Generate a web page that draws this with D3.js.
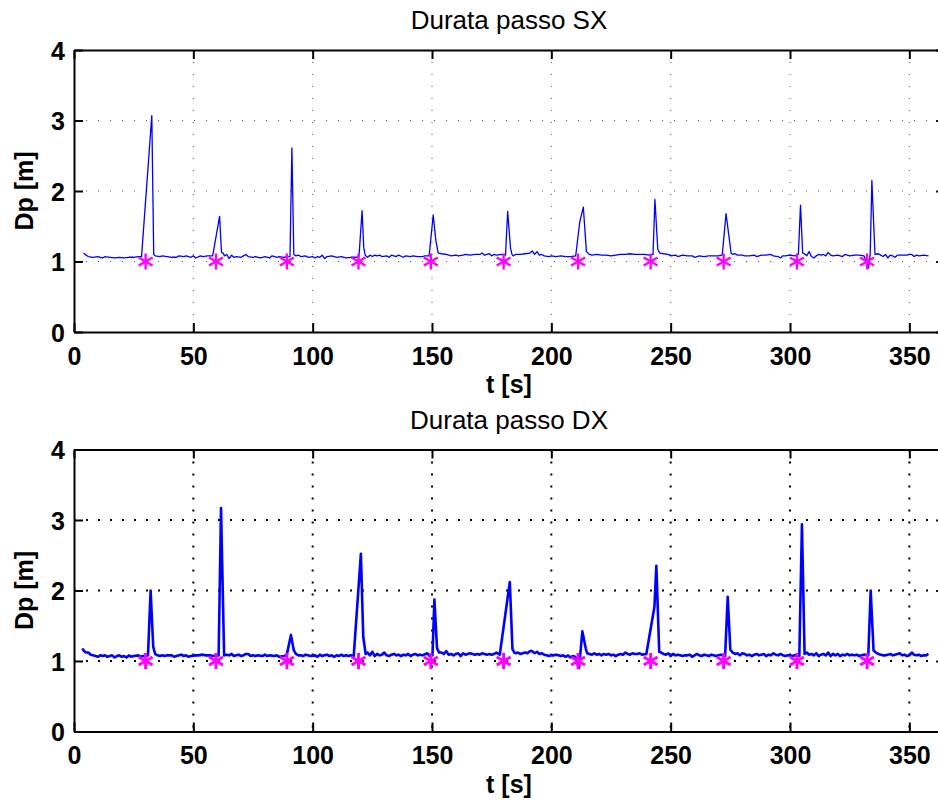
<!DOCTYPE html>
<html>
<head>
<meta charset="utf-8">
<script src="https://cdn.jsdelivr.net/npm/d3@7"></script>
<style>
  html, body { margin: 0; padding: 0; background: #fff; }
  svg { display: block; }
  text { font-family: "Liberation Sans", Arial, Helvetica, sans-serif; fill: #000; }
</style>
</head>
<body>
<svg id="chart" width="938" height="800"></svg>
<script>
// ---------------- DATA ----------------
const titles = ["Durata passo SX", "Durata passo DX"];
const xLabel = "t [s]";
const yLabel = "Dp [m]";
const xTicks = [0, 50, 100, 150, 200, 250, 300, 350];
const yTicks = [0, 1, 2, 3, 4];
const xDomain = [0, 365];
const yDomain = [0, 4];

const tSX = [4,5,6,8,10,11,12,13,15,17,19,21,23,25,27,28.3,32.6,33.4,34,36,37,39,41,43,44,46,47,49,50,51,53,54,56,57,58.1,61,61.8,62.5,63,64,65,66,67,68,70,71,72,73,75,76,78,79,80,82,83,85,86,88,90.5,91.3,92.1,93,94,95,97,98,100,101,102,103,104,105,106,108,110,112,114,116,118,119.4,120.7,121.4,122,123,124,125,126,127,128,129,131,132,133,135,136,138,139,141,142,144,146,147,148.8,150.5,151.6,152.6,154,156,157,158,160,161,163,164,166,168,170,171,172,174,175,176,177,179,180.8,181.7,182.9,183.5,184,185,187,189,191,192,193,194,195,196,197,199,200,202,204,206,208,210.2,211.9,213.4,214.7,216,217,219,221,223,225,227,229,231,233,235,237,239,241,242.6,243.4,244.6,245.5,247,249,250,252,253,255,257,259,260,262,264,266,268,270,271.6,273.2,275.3,276,277,278,280,281,283,285,286,288,290,292,293,295,296,297,298,300,302,303.5,304.4,305.3,306,307,308,309,310,311,312,313,314,315,316,317,318,320,322,323,325,327,329,331,332.9,333.6,334.3,335.6,337,338,339,340,341,342,343,344,345,347,349,350,351,352,353,354,356,358];
const dpSX = [1.12,1.09,1.07,1.06,1.07,1.06,1.05,1.07,1.06,1.05,1.06,1.05,1.06,1.06,1.07,1.07,3.07,1.10,1.08,1.07,1.08,1.07,1.06,1.06,1.08,1.07,1.08,1.06,1.08,1.05,1.08,1.07,1.08,1.08,1.08,1.64,1.13,1.12,1.08,1.10,1.04,1.09,1.06,1.07,1.06,1.08,1.10,1.07,1.06,1.07,1.05,1.06,1.07,1.05,1.08,1.06,1.07,1.06,1.07,2.61,1.10,1.08,1.09,1.07,1.08,1.06,1.07,1.05,1.07,1.06,1.09,1.04,1.07,1.08,1.06,1.07,1.05,1.06,1.06,1.07,1.72,1.20,1.09,1.06,1.09,1.07,1.09,1.08,1.09,1.07,1.08,1.06,1.09,1.07,1.09,1.06,1.08,1.07,1.08,1.07,1.07,1.08,1.08,1.66,1.30,1.12,1.11,1.10,1.09,1.08,1.09,1.08,1.09,1.10,1.09,1.10,1.10,1.12,1.09,1.11,1.08,1.10,1.09,1.10,1.09,1.71,1.19,1.10,1.08,1.10,1.10,1.11,1.12,1.15,1.10,1.14,1.09,1.10,1.08,1.07,1.08,1.07,1.08,1.07,1.07,1.08,1.56,1.77,1.14,1.10,1.09,1.10,1.09,1.09,1.08,1.09,1.10,1.10,1.11,1.10,1.10,1.10,1.09,1.10,1.88,1.17,1.12,1.11,1.10,1.08,1.09,1.07,1.09,1.08,1.08,1.06,1.08,1.07,1.08,1.08,1.08,1.09,1.68,1.12,1.10,1.11,1.09,1.09,1.08,1.08,1.09,1.07,1.09,1.09,1.10,1.08,1.07,1.05,1.08,1.08,1.09,1.08,1.10,1.80,1.12,1.11,1.08,1.14,1.07,1.05,1.08,1.10,1.09,1.10,1.08,1.13,1.09,1.08,1.09,1.07,1.10,1.08,1.09,1.09,1.08,0.91,1.10,2.15,1.10,1.11,1.09,1.07,1.10,1.05,1.09,1.08,1.06,1.09,1.09,1.09,1.10,1.10,1.07,1.09,1.08,1.09,1.08];

const tDX = [3.5,4,5,6,7,8,9,10,11,12,13,14,15,16,17,18,19,20,21,22,23,24,25,27,28,29,31,32.1,33.2,34,35,36,37,38,39,41,42,43,44,45,46,47,48,49,51,52,54,55,57,58,60.6,61.6,62.9,64,65,66,67,68,69,70,71,72,73,74,75,76,77,79,80,81,82,84,85,86,88,89.1,90.9,92.1,93,94,95,96,97,98,99,101,102,103,104,105,106,107,108,109,110,111,112,113,114,115,116,117.2,120.2,121.2,122.2,123,124,125,126,127,128,129,130,131,132,133,134,135,136,137,138,139,140,141,142,143,144,145,146,148,149,150.2,151,152.1,153,154,155,156,157,158,159,160,161,162,163,164,165,166,167,168,169,170,171,172,173,174,175,176,177,178.4,182.6,183.7,184.5,185,186,187,188,189,190,191,192,193,194,195,196,197,198,199,200,201,202,203,204,205,206,207,208,209,210,211.6,213,214.4,215,216,217,218,219,220,221,222,223,224,225,226,227,228,229,230,231,232,233,234,235,236,237,238,239.8,243.2,244,245.2,246,247,248,249,250,251,252,253,254,255,256,257,258,259,260,261,262,263,264,265,266,267,268,269,270,271,272.8,273.9,275,276,277,278,279,280,281,282,283,284,285,286,287,288,289,290,291,292,293,294,295,296,297,298,299,300,301,302,303.9,305,306.1,307,308,309,310,311,312,313,314,315,316,317,318,319,320,321,322,323,324,325,326,327,328,329,330,331,332.8,333.8,335,336,337,338,339,340,341,342,343,344,345,346,347,348,349,350,351,352,353,354,355,356,357,358];
const dpDX = [1.18,1.15,1.12,1.12,1.09,1.08,1.07,1.06,1.08,1.07,1.08,1.06,1.07,1.08,1.05,1.07,1.08,1.06,1.07,1.05,1.08,1.06,1.07,1.08,1.06,1.07,1.08,2.00,1.20,1.10,1.08,1.07,1.08,1.07,1.08,1.08,1.06,1.07,1.08,1.09,1.07,1.08,1.06,1.07,1.08,1.08,1.09,1.08,1.08,1.07,1.08,3.17,1.08,1.09,1.08,1.10,1.07,1.08,1.09,1.07,1.08,1.10,1.10,1.07,1.08,1.07,1.08,1.07,1.09,1.07,1.08,1.07,1.08,1.06,1.07,1.08,1.37,1.15,1.10,1.08,1.08,1.07,1.09,1.08,1.07,1.08,1.06,1.09,1.07,1.08,1.09,1.07,1.08,1.06,1.08,1.07,1.09,1.07,1.08,1.07,1.08,1.07,2.52,1.34,1.10,1.12,1.08,1.13,1.07,1.10,1.08,1.09,1.12,1.08,1.07,1.09,1.10,1.08,1.09,1.07,1.09,1.08,1.10,1.07,1.09,1.10,1.08,1.09,1.08,1.11,1.07,1.08,1.87,1.18,1.12,1.12,1.10,1.14,1.09,1.10,1.08,1.10,1.11,1.07,1.11,1.09,1.10,1.11,1.10,1.09,1.10,1.09,1.11,1.10,1.09,1.10,1.09,1.10,1.12,1.09,2.12,1.17,1.12,1.11,1.12,1.10,1.11,1.12,1.11,1.14,1.14,1.11,1.13,1.10,1.11,1.09,1.08,1.07,1.08,1.08,1.09,1.08,1.07,1.08,1.06,1.08,1.05,1.07,1.06,0.90,1.42,1.18,1.11,1.10,1.09,1.11,1.09,1.10,1.08,1.10,1.09,1.10,1.08,1.09,1.07,1.09,1.10,1.09,1.12,1.10,1.09,1.11,1.10,1.10,1.11,1.09,1.10,1.77,2.35,1.13,1.12,1.10,1.09,1.11,1.07,1.10,1.08,1.09,1.08,1.07,1.08,1.08,1.09,1.06,1.08,1.10,1.08,1.07,1.09,1.08,1.07,1.09,1.08,1.07,1.08,1.09,1.07,1.91,1.16,1.12,1.10,1.11,1.08,1.11,1.10,1.08,1.09,1.07,1.09,1.10,1.08,1.09,1.10,1.07,1.09,1.08,1.11,1.09,1.08,1.10,1.08,1.07,1.08,1.08,1.07,1.08,1.07,2.94,1.10,1.12,1.09,1.10,1.08,1.11,1.07,1.09,1.10,1.08,1.12,1.07,1.10,1.08,1.10,1.07,1.09,1.08,1.10,1.08,1.09,1.08,1.09,1.07,1.08,1.09,1.08,2.00,1.15,1.12,1.10,1.09,1.08,1.08,1.09,1.10,1.08,1.09,1.10,1.11,1.08,1.09,1.07,1.08,1.12,1.09,1.08,1.09,1.07,1.08,1.08,1.10];

const markT = [30, 59.5, 89.2, 119.2, 149.5, 180, 211.2, 241.6, 272.2, 302.9, 332.3];
const markV = [1, 1, 1, 1, 1, 1, 1, 1, 1, 1, 1];

// ---------------- DRAW ----------------
const svg = d3.select("#chart");

const panels = [
  { title: titles[0], t: tSX, v: dpSX, top: 50, lineW: 1.3, gridW: 1, gridDash: "1,11", gridColor: "#555", markW: 2.4 },
  { title: titles[1], t: tDX, v: dpDX, top: 449.5, lineW: 2.6, gridW: 2, gridDash: "2,10", gridColor: "#000", markW: 3 }
];

const left = 74, pxPerUnit = 2.3867, plotH = 282;
const right = left + pxPerUnit * (xDomain[1] - xDomain[0]);

panels.forEach(p => {
  const g = svg.append("g");
  const x = d3.scaleLinear().domain(xDomain).range([left, right]);
  const y = d3.scaleLinear().domain(yDomain).range([p.top + plotH, p.top]);

  // grid
  const grid = g.append("g");
  grid.selectAll("line.vg").data(xTicks.filter(d => d > 0)).enter().append("line")
    .attr("x1", d => x(d)).attr("x2", d => x(d))
    .attr("y1", y(yDomain[1])).attr("y2", y(yDomain[0]))
    .attr("stroke", p.gridColor).attr("stroke-width", p.gridW)
    .attr("stroke-dasharray", p.gridDash);
  grid.selectAll("line.hg").data(yTicks.filter(d => d > 0 && d < 4)).enter().append("line")
    .attr("x1", x(xDomain[0])).attr("x2", x(xDomain[1]))
    .attr("y1", d => y(d)).attr("y2", d => y(d))
    .attr("stroke", p.gridColor).attr("stroke-width", p.gridW)
    .attr("stroke-dasharray", p.gridDash);

  // data line
  const pts = p.t.map((t, i) => [t, p.v[i]]);
  g.append("path").datum(pts)
    .attr("fill", "none").attr("stroke", "#0000ff")
    .attr("stroke-width", p.lineW).attr("stroke-linejoin", "round")
    .attr("d", d3.line().x(d => x(d[0])).y(d => y(d[1])));

  // markers (six-armed asterisks)
  const r = 8;
  const cx30 = r * Math.cos(Math.PI / 6), sy30 = r * Math.sin(Math.PI / 6);
  const mk = g.append("g");
  markT.forEach((t, i) => {
    const cx = x(t), cy = y(markV[i]);
    const m = mk.append("g").attr("transform", `translate(${cx},${cy})`);
    [[0,-r,0,r],[-cx30,-sy30,cx30,sy30],[-cx30,sy30,cx30,-sy30]].forEach(s => {
      m.append("line").attr("x1", s[0]).attr("y1", s[1]).attr("x2", s[2]).attr("y2", s[3])
        .attr("stroke", "#ff00ff").attr("stroke-width", p.markW);
    });
  });

  // axes
  const xAxis = d3.axisBottom(x).tickValues(xTicks).tickSizeInner(-9).tickSizeOuter(0).tickPadding(15).tickFormat(d3.format("d"));
  const gx = g.append("g").attr("transform", `translate(0,${y(0)})`).call(xAxis);
  const xAxisTop = d3.axisTop(x).tickValues(xTicks).tickSizeInner(-9).tickSizeOuter(0).tickFormat("");
  const gxt = g.append("g").attr("transform", `translate(0,${y(4)})`).call(xAxisTop);
  const yAxis = d3.axisLeft(y).tickValues(yTicks).tickSizeInner(-9).tickSizeOuter(0).tickPadding(9).tickFormat(d3.format("d"));
  const gy = g.append("g").attr("transform", `translate(${left},0)`).call(yAxis);
  const yAxisR = d3.axisRight(y).tickValues(yTicks).tickSizeInner(-9).tickSizeOuter(0).tickFormat("");
  const gyr = g.append("g").attr("transform", `translate(${right},0)`).call(yAxisR);

  [gx, gxt, gy, gyr].forEach(a => {
    a.select(".domain").attr("stroke", "#000").attr("stroke-width", 2);
    a.selectAll(".tick line").attr("stroke", "#000").attr("stroke-width", 2);
    a.selectAll(".tick text")
      .attr("font-family", "'Liberation Sans', Arial, sans-serif")
      .attr("font-size", 25).attr("font-weight", "bold").attr("fill", "#000");
  });
  gy.selectAll(".tick text").attr("dy", "0.36em");

  // title
  g.append("text").attr("x", 509).attr("y", p.top - 21)
    .attr("text-anchor", "middle").attr("font-size", 26)
    .text(p.title);

  // x label
  g.append("text").attr("x", 509).attr("y", p.top + plotH + 61)
    .attr("text-anchor", "middle").attr("font-size", 25).attr("font-weight", "bold")
    .text(xLabel);

  // y label
  g.append("text")
    .attr("transform", `translate(33,${p.top + plotH / 2}) rotate(-90)`)
    .attr("text-anchor", "middle").attr("font-size", 25).attr("font-weight", "bold")
    .text(yLabel);
});
</script>
</body>
</html>
